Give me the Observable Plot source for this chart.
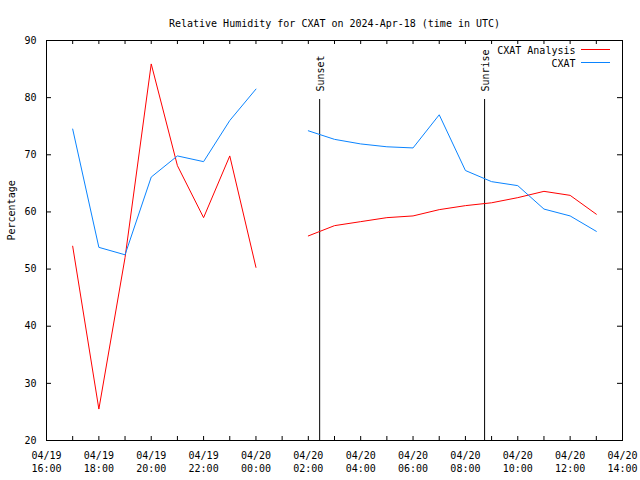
<!DOCTYPE html>
<html>
<head>
<meta charset="utf-8">
<script src="https://cdn.jsdelivr.net/npm/d3@7"></script>
<script src="https://cdn.jsdelivr.net/npm/@observablehq/plot@0.6"></script>
<style>
  html, body { margin: 0; padding: 0; background: white; }
</style>
</head>
<body>
<div id="chart"></div>
<script>
const titleText = "Relative Humidity for CXAT on 2024-Apr-18 (time in UTC)";
const yLabel = "Percentage";
const seriesNames = ["CXAT Analysis", "CXAT"];
const seriesColors = ["#ff0000", "#0a84ff"];

const times = [
  "2024-04-19T17:00Z", "2024-04-19T18:00Z", "2024-04-19T19:00Z", "2024-04-19T20:00Z",
  "2024-04-19T21:00Z", "2024-04-19T22:00Z", "2024-04-19T23:00Z", "2024-04-20T00:00Z",
  "2024-04-20T01:00Z", "2024-04-20T02:00Z", "2024-04-20T03:00Z", "2024-04-20T04:00Z",
  "2024-04-20T05:00Z", "2024-04-20T06:00Z", "2024-04-20T07:00Z", "2024-04-20T08:00Z",
  "2024-04-20T09:00Z", "2024-04-20T10:00Z", "2024-04-20T11:00Z", "2024-04-20T12:00Z",
  "2024-04-20T13:00Z"
];
const analysis = [54, 25.5, 52, 85.9, 68.1, 59, 69.8, 50.3, null, 55.8, 57.6, 58.3,
  59, 59.3, 60.4, 61.1, 61.6, 62.5, 63.6, 62.9, 59.6];
const cxat = [74.5, 53.8, 52.5, 66.1, 69.8, 68.8, 76, 81.5, null, 74.2, 72.7, 71.9,
  71.4, 71.2, 77.0, 67.25, 65.3, 64.6, 60.5, 59.3, 56.6];

const sunLabels = ["Sunset", "Sunrise"];
const sunTimes = ["2024-04-20T02:26Z", "2024-04-20T08:44Z"];

const xDomain = ["2024-04-19T16:00Z", "2024-04-20T14:00Z"];
const yDomain = [20, 90];
const yTicks = [20, 30, 40, 50, 60, 70, 80, 90];

const rows = times.map((t, i) => ({time: new Date(t), analysis: analysis[i], cxat: cxat[i]}));
const sun = sunTimes.map((t, i) => ({time: new Date(t), label: sunLabels[i]}));
const x0 = new Date(xDomain[0]), x1 = new Date(xDomain[1]);
const majorX = d3.utcHour.every(2).range(x0, new Date(+x1 + 1));
const minorX = d3.utcHour.every(1).range(x0, new Date(+x1 + 1));
const fmtX = d => d3.utcFormat("%m/%d")(d) + "\n" + d3.utcFormat("%H:%M")(d);

const W = 640, H = 480, mL = 46, mR = 18, mT = 40, mB = 40;
const fw = W - mL - mR, fh = H - mT - mB;

const plot = Plot.plot({
  width: W, height: H,
  marginLeft: mL, marginRight: mR, marginTop: mT, marginBottom: mB,
  style: "font-family: 'DejaVu Sans Mono', monospace; font-size: 10px; background: white; color: black;",
  x: {type: "utc", domain: [x0, x1]},
  y: {domain: yDomain},
  marks: [
    Plot.frame({stroke: "black", strokeWidth: 1}),
    Plot.axisX({ticks: majorX, tickFormat: fmtX, tickSize: 0, tickPadding: 9.5, lineHeight: 1.3, label: null}),
    Plot.axisY({ticks: yTicks, tickSize: 0, tickPadding: 10, label: null}),
    Plot.tickX(minorX, {x: d => d, insetTop: fh - 4, stroke: "black"}),
    Plot.tickX(minorX, {x: d => d, insetBottom: fh - 4, stroke: "black"}),
    Plot.tickY(yTicks, {y: d => d, insetRight: fw - 5, stroke: "black"}),
    Plot.tickY(yTicks, {y: d => d, insetLeft: fw - 5, stroke: "black"}),
    Plot.ruleX(sun, {x: "time", insetTop: 59, stroke: "black", strokeWidth: 1}),
    Plot.text(sun, {x: "time", text: "label", frameAnchor: "top", dy: 51, dx: 1, rotate: -90, textAnchor: "start", lineAnchor: "middle", fill: "black"}),
    Plot.line(rows, {x: "time", y: "analysis", stroke: seriesColors[0], strokeWidth: 1}),
    Plot.line(rows, {x: "time", y: "cxat", stroke: seriesColors[1], strokeWidth: 1}),
    Plot.text([titleText], {frameAnchor: "top", dy: -21, fill: "black"}),
    Plot.text([yLabel], {frameAnchor: "left", dx: -35, rotate: -90, fill: "black"}),
    Plot.text([seriesNames[0]], {frameAnchor: "top-right", dx: -47, dy: 10, textAnchor: "end", lineAnchor: "middle", fill: "black"}),
    Plot.text([seriesNames[1]], {frameAnchor: "top-right", dx: -47, dy: 23, textAnchor: "end", lineAnchor: "middle", fill: "black"})
  ]
});

// legend swatches
const svg = d3.select(plot);
seriesNames.forEach((n, i) => {
  svg.append("line")
    .attr("x1", W - mR - 41).attr("x2", W - mR - 12)
    .attr("y1", mT + 9.5 + 13 * i).attr("y2", mT + 9.5 + 13 * i)
    .attr("stroke", seriesColors[i]).attr("stroke-width", 1);
});

document.getElementById("chart").appendChild(plot);
</script>
</body>
</html>
